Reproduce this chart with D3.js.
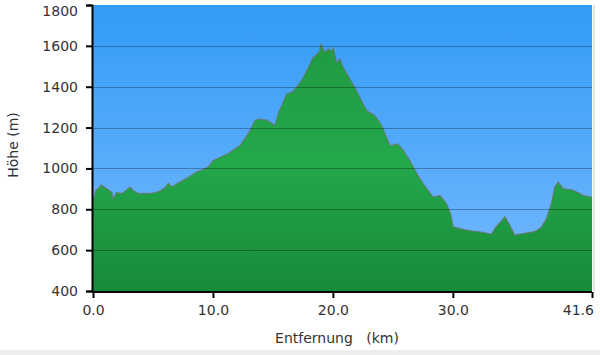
<!DOCTYPE html>
<html><head><meta charset="utf-8">
<script src="https://cdn.jsdelivr.net/npm/d3@7"></script>
<style>body{margin:0;background:#fff;}svg{display:block;}</style>
</head><body>
<svg id="c" width="600" height="355"></svg>
<script>
const distKm = [0.0,0.03,0.25,0.5,0.72,0.9,1.14,1.35,1.56,1.7,1.97,2.2,2.5,2.8,3.08,3.4,3.78,4.2,4.75,5.2,5.58,6.0,6.28,6.56,7.25,8.0,8.64,9.2,9.6,10.03,10.6,11.2,11.7,12.25,12.7,13.1,13.5,13.9,14.47,15.17,15.44,16.14,16.56,16.97,17.53,18.0,18.36,18.7,18.92,19.0,19.33,19.6,19.89,20.03,20.3,20.58,20.86,21.4,21.97,22.4,22.8,23.5,24.06,24.47,24.75,25.44,25.86,26.3,26.7,27.1,27.53,27.9,28.36,28.92,29.47,29.8,30.03,30.6,31.14,31.7,32.25,32.8,33.2,33.6,34.0,34.33,34.75,35.17,35.5,35.86,36.3,36.7,37.1,37.4,37.8,38.22,38.5,38.78,39.2,39.6,40.03,40.5,40.86,41.3,41.6];
const elevM = [845,847,893,905,920,910,901,892,884,850,884,878,880,895,909,890,877,878,877,882,889,905,928,909,933,958,982,995,1007,1039,1055,1070,1090,1112,1150,1185,1235,1242,1237,1210,1267,1364,1372,1397,1445,1500,1543,1560,1576,1608,1568,1585,1576,1592,1519,1535,1494,1440,1380,1330,1283,1258,1210,1153,1112,1120,1088,1050,1007,965,925,895,860,868,828,780,714,705,698,693,689,684,678,714,740,763,722,673,678,681,686,689,700,714,755,828,909,933,901,898,893,880,868,862,860];
const yTicks = [400,600,800,1000,1200,1400,1600,1800];
const xTicks = [0,10,20,30,41.6];
const xTickLabels = ["0.0","10.0","20.0","30.0","41.6"];

const svg = d3.select("#c");
const L = 93, R = 592, T = 5, B = 291;
const x = d3.scaleLinear().domain([0,41.6]).range([L,R]);
const y = d3.scaleLinear().domain([400,1800]).range([B,T]);

const defs = svg.append("defs");
const sky = defs.append("linearGradient").attr("id","sky").attr("x1",0).attr("y1",0).attr("x2",0).attr("y2",1);
sky.append("stop").attr("offset","0%").attr("stop-color","#319cf6");
sky.append("stop").attr("offset","100%").attr("stop-color","#78b9ff");
const grn = defs.append("linearGradient").attr("id","grn").attr("gradientUnits","userSpaceOnUse").attr("x1",0).attr("y1",T).attr("x2",0).attr("y2",B);
grn.append("stop").attr("offset","0%").attr("stop-color","#1e9640");
grn.append("stop").attr("offset","55%").attr("stop-color","#23a84a");
grn.append("stop").attr("offset","100%").attr("stop-color","#178a38");

svg.append("rect").attr("x",L).attr("y",T).attr("width",R-L).attr("height",B-T).attr("fill","url(#sky)");

const pts = distKm.map((d,i)=>[d,elevM[i]]);
const area = d3.area().x(d=>x(d[0])).y0(B).y1(d=>y(d[1]));
svg.append("path").datum(pts).attr("d",area).attr("fill","url(#grn)");
const line = d3.line().x(d=>x(d[0])).y(d=>y(d[1]));
svg.append("path").datum(pts).attr("d",line).attr("fill","none").attr("stroke","#6a756a").attr("stroke-width",1.2).attr("stroke-opacity",0.8);

// grid
svg.append("g").selectAll("line").data(yTicks.slice(1,-1)).join("line")
  .attr("x1",L).attr("x2",R).attr("y1",d=>Math.round(y(d))+0.5).attr("y2",d=>Math.round(y(d))+0.5)
  .attr("stroke","#000").attr("stroke-opacity",0.3).attr("stroke-width",1.2);

svg.append("line").attr("x1",R+2).attr("x2",R+2).attr("y1",T).attr("y2",B).attr("stroke","#d8f0d8").attr("stroke-width",2);

const font = "DejaVu Sans, Verdana, sans-serif";
const yAxis = d3.axisLeft(y).tickValues(yTicks).tickSize(6).tickPadding(8).tickFormat(d3.format("d"));
const gy = svg.append("g").attr("transform",`translate(${L-1},0)`).call(yAxis);
const xAxis = d3.axisBottom(x).tickValues(xTicks).tickSize(6).tickPadding(7).tickFormat((d,i)=>xTickLabels[i]);
const gx = svg.append("g").attr("transform",`translate(0,${B+1})`).call(xAxis);
[gy,gx].forEach(g=>{
  g.select(".domain").attr("stroke","#000").attr("stroke-width",2);
  g.selectAll(".tick line").attr("stroke","#000").attr("stroke-width",2);
  g.selectAll("text").attr("font-family",font).attr("font-size",14).attr("fill","#333");
});
gx.select(".domain").attr("d",`M${L-1},0H${R}`);
gy.selectAll(".tick").filter(d=>d===1800).select("text").attr("dy","0.75em");
gx.selectAll(".tick").filter(d=>d===41.6).select("text").attr("text-anchor","end").attr("dx","0.1em");

svg.append("text").attr("transform",`translate(18,${(T+B)/2-3}) rotate(-90)`).attr("text-anchor","middle")
  .attr("font-family",font).attr("font-size",14).attr("fill","#333").text("Höhe (m)");
svg.append("text").attr("x",337).attr("y",343).attr("text-anchor","middle").attr("xml:space","preserve")
  .attr("font-family",font).attr("font-size",14).attr("fill","#333").text("Entfernung   (km)");

svg.append("rect").attr("x",0).attr("y",350).attr("width",600).attr("height",5).attr("fill","#eeeeee");
</script>
</body></html>
